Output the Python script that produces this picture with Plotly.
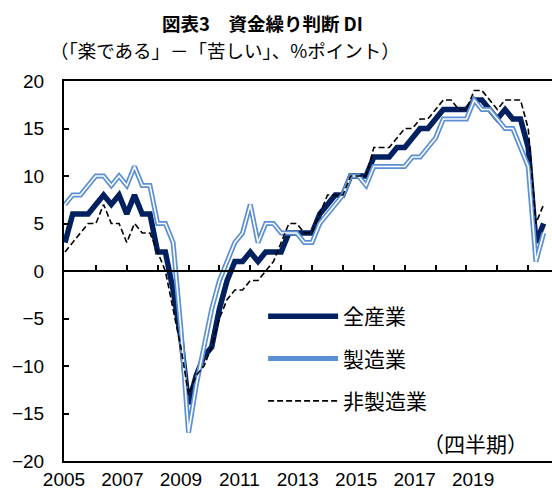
import plotly.graph_objects as go

# quarterly, 2005Q1 .. 2020Q3
quarters = [f"{y}Q{q}" for y in range(2005, 2021) for q in range(1, 5)][:63]
year_labels = ["2005", "2007", "2009", "2011", "2013", "2015", "2017", "2019"]

all_industries = [
    3, 6, 6, 6, 7, 8, 7, 8, 6, 8, 6, 6,
    2, 2, -2, -7, -14, -11, -9, -8, -4, -1, 1, 1,
    2, 1, 2, 2, 2, 4, 4, 4, 4, 6, 7, 8,
    8, 10, 10, 10, 12, 12, 12, 13, 13, 14, 15, 15,
    16, 17, 17, 17, 17, 18, 18, 17, 16, 17, 16, 16,
    13, 3, 5,
]
manufacturing = [
    7, 8, 8, 9, 10, 10, 9, 10, 9, 11, 9, 9,
    5, 5, 3, -6, -17, -12, -8, -4, -1, 1, 3, 4,
    7, 3, 5, 5, 4, 4, 4, 3, 3, 5, 6, 7,
    8, 10, 10, 9, 11, 11, 11, 11, 11, 12, 12, 13,
    14, 16, 16, 16, 16, 18, 17, 17, 16, 15, 15, 13,
    11, 1, 4,
]
non_manufacturing = [
    2, 3, 4, 5, 5, 7, 5, 5, 3, 5, 4, 4,
    2, 0, -4, -8, -13, -11, -10, -8, -5, -3, -2, -2,
    -1, -1, 0, 1, 3, 5, 5, 4, 4, 6, 8, 8,
    8, 10, 10, 10, 13, 13, 13, 14, 15, 15, 16, 16,
    17, 18, 18, 17, 17, 19, 19, 18, 17, 18, 18, 18,
    15, 5, 7,
]

idx = list(range(len(quarters)))
NAVY = "#002060"
BLUE = "#5b8fd3"
JP = "Noto Sans CJK JP"
NUM = "Liberation Sans"

fig = go.Figure()

fig.add_trace(go.Scatter(
    x=idx, y=all_industries, mode="lines", name="全産業",
    line=dict(color=NAVY, width=5.5), legendgroup="a",
))
fig.add_trace(go.Scatter(
    x=idx, y=manufacturing, mode="lines", name="製造業",
    line=dict(color=BLUE, width=5), legendgroup="b",
))
# white core gives the double-line look
fig.add_trace(go.Scatter(
    x=idx, y=manufacturing, mode="lines", showlegend=False,
    line=dict(color="white", width=1.6), hoverinfo="skip",
))
fig.add_trace(go.Scatter(
    x=idx, y=non_manufacturing, mode="lines", name="非製造業",
    line=dict(color="black", width=1.6, dash="6px,3px"), legendgroup="c",
))
# empty trace so the year-label axis gets drawn
fig.add_trace(go.Scatter(
    x=[None], y=[None], xaxis="x2", yaxis="y", mode="lines",
    showlegend=False, hoverinfo="skip",
))

# year labels in the source are spaced a bit tighter than the quarterly grid
label_range = [0, 66.8]

fig.update_layout(
    width=552, height=492,
    margin=dict(l=64, r=0, t=81, b=31, autoexpand=False),
    paper_bgcolor="white", plot_bgcolor="white",
    font=dict(family=JP, color="black"),
    showlegend=True,
    legend=dict(
        x=0.408, y=0.434, xanchor="left", yanchor="top",
        bgcolor="rgba(0,0,0,0)", font=dict(size=21, family=JP),
        itemwidth=70, tracegroupgap=12,
    ),
    xaxis=dict(
        range=[-0.13, 63.08], anchor="free", position=0.5,
        showline=True, linecolor="black", linewidth=2,
        ticks="inside", ticklen=5, tickwidth=1.5, tickcolor="black",
        tickvals=list(range(0, 63, 4)), showticklabels=False,
        showgrid=False, zeroline=False, automargin=False,
    ),
    xaxis2=dict(
        overlaying="x", anchor="y", side="bottom",
        range=label_range, tickvals=list(range(0, 57, 8)), ticktext=year_labels,
        showline=True, mirror=True, linecolor="black", linewidth=2,
        ticks="", tickfont=dict(size=19, family=NUM),
        showgrid=False, zeroline=False, automargin=False,
    ),
    yaxis=dict(
        range=[-20, 20], dtick=5,
        showline=True, linecolor="black", linewidth=2,
        ticks="inside", ticklen=5, tickwidth=1.5, tickcolor="black",
        tickfont=dict(size=19, family=NUM), ticklabelstandoff=14,
        showgrid=False, zeroline=False, automargin=False,
    ),
    annotations=[
        dict(text="<b>図表3　資金繰り判断 DI</b>", xref="paper", yref="paper",
             x=0.407, y=1.153, xanchor="center", yanchor="middle",
             showarrow=False, font=dict(size=18.5, family=JP)),
        dict(text="（「楽である」－「苦しい」、%ポイント）", xref="paper", yref="paper",
             x=0.33, y=1.082, xanchor="center", yanchor="middle",
             showarrow=False, font=dict(size=18.5, family=JP)),
        dict(text="（四半期）", xref="paper", yref="paper",
             x=0.843, y=0.047, xanchor="center", yanchor="middle",
             showarrow=False, font=dict(size=21, family=JP)),
    ],
)

# the page's default body margin would shift the chart off the window
fig.write_html(
    "out.html",
    config={"displayModeBar": False},
    post_script="document.body.style.margin='0px';",
)
